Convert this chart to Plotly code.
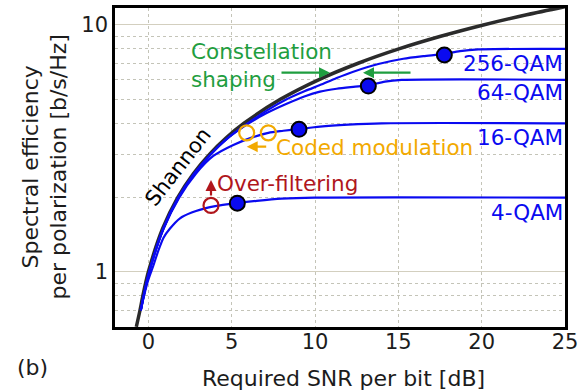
import plotly.graph_objects as go

# ---------------- data ----------------
shannon_x = [-0.72, -0.50, -0.33, 0.00, 0.86, 1.76, 2.70, 3.68, 4.69, 5.74, 7.92, 10.21, 12.59, 15.03, 17.54, 20.10, 22.70, 25.33]
shannon_y = [0.60, 0.70, 0.80, 1.00, 1.50, 2.00, 2.50, 3.00, 3.50, 4.00, 5.00, 6.00, 7.00, 8.00, 9.00, 10.0, 11.0, 12.0]

qam4_x = [-0.45, -0.28, 0.00, 0.30, 0.60, 0.92, 1.30, 1.90, 2.60, 3.40, 4.30, 5.30, 6.50, 8.00, 10.0, 25.0]
qam4_y = [0.70, 0.79, 0.93, 1.06, 1.22, 1.38, 1.50, 1.65, 1.74, 1.81, 1.86, 1.90, 1.94, 1.98, 2.00, 2.00]

qam16_x = [-0.45, -0.28, 0.05, 0.92, 1.85, 2.85, 3.90, 5.10, 6.20, 7.20, 8.10, 9.00, 10.3, 12.0, 14.0, 25.0]
qam16_y = [0.70, 0.80, 1.00, 1.50, 2.00, 2.50, 2.95, 3.27, 3.50, 3.66, 3.73, 3.79, 3.88, 3.95, 4.00, 4.00]

qam64_x = [-0.45, -0.28, 0.05, 0.90, 1.80, 2.75, 3.75, 4.80, 5.90, 7.10, 8.30, 9.40, 10.3, 11.3, 12.3, 13.2, 14.2, 15.2, 25.0]
qam64_y = [0.70, 0.80, 1.00, 1.50, 2.00, 2.50, 3.00, 3.50, 3.95, 4.40, 4.80, 5.15, 5.37, 5.52, 5.62, 5.70, 5.90, 5.99, 6.00]

qam256_x = [-0.45, -0.28, 0.05, 0.90, 1.80, 2.75, 3.75, 4.80, 5.90, 7.10, 8.30, 9.40, 10.3, 11.3, 12.3, 13.8, 15.3, 16.5, 17.7, 18.7, 19.8, 25.0]
qam256_y = [0.70, 0.80, 1.00, 1.50, 2.00, 2.50, 3.00, 3.50, 3.97, 4.50, 5.00, 5.40, 5.71, 6.10, 6.47, 6.95, 7.30, 7.48, 7.63, 7.84, 7.96, 8.00]

uncoded_x = [5.34, 9.04, 13.2, 17.76]
uncoded_y = [1.90, 3.78, 5.66, 7.56]

coded_x = [5.90, 7.20]
coded_y = [3.66, 3.66]

overfilt_x = [3.76]
overfilt_y = [1.86]

qam_names = ["4-QAM", "16-QAM", "64-QAM", "256-QAM"]
x_ticks = [0, 5, 10, 15, 20, 25]
y_ticks = [1, 10]

BLUE = "#0a0af0"
GREEN = "#1f9e3f"
ORANGE = "#f2a900"
RED = "#b0161c"
TXT = "#1c1c1c"
FONT = "DejaVu Sans"

fig = go.Figure()
fig.add_trace(go.Scatter(x=shannon_x, y=shannon_y, mode="lines",
                         line=dict(color="#2b2b2b", width=3.5, shape="spline", smoothing=0.8),
                         showlegend=False, hoverinfo="skip"))
for xs, ys in [(qam4_x, qam4_y), (qam16_x, qam16_y), (qam64_x, qam64_y), (qam256_x, qam256_y)]:
    fig.add_trace(go.Scatter(x=xs, y=ys, mode="lines",
                             line=dict(color=BLUE, width=2.2, shape="spline", smoothing=0.8),
                             showlegend=False, hoverinfo="skip"))

fig.add_trace(go.Scatter(x=coded_x, y=coded_y, mode="markers",
                         marker=dict(symbol="circle-open", size=15, color=ORANGE, line=dict(width=2.2, color=ORANGE)),
                         showlegend=False))
fig.add_trace(go.Scatter(x=overfilt_x, y=overfilt_y, mode="markers",
                         marker=dict(symbol="circle-open", size=15, color=RED, line=dict(width=2.2, color=RED)),
                         showlegend=False))
fig.add_trace(go.Scatter(x=uncoded_x, y=uncoded_y, mode="markers",
                         marker=dict(symbol="circle", size=15, color=BLUE, line=dict(width=2, color="black")),
                         showlegend=False))

W, H = 578, 390
L, R, T, B = 115, 13, 8, 63
PW, PH = W - L - R, H - T - B


def px(x):
    return (x - L) / PW


def py(y):
    return (H - B - y) / PH


ann = []
# curve labels
label_y = {"256-QAM": 63, "64-QAM": 93, "16-QAM": 137, "4-QAM": 212}
for name in qam_names:
    ann.append(dict(text=name, xref="paper", yref="paper", x=px(565), y=py(label_y[name]),
                    xanchor="right", yanchor="middle", showarrow=False,
                    font=dict(family=FONT, size=21.5, color=BLUE)))
ann.append(dict(text="Constellation<br>shaping", xref="paper", yref="paper", x=px(189), y=py(66),
                xanchor="left", yanchor="middle", align="left", showarrow=False,
                font=dict(family=FONT, size=21.5, color=GREEN)))
ann.append(dict(text="Coded modulation", xref="paper", yref="paper", x=px(274), y=py(147),
                xanchor="left", yanchor="middle", showarrow=False,
                font=dict(family=FONT, size=21.5, color=ORANGE)))
ann.append(dict(text="Over-filtering", xref="paper", yref="paper", x=px(215), y=py(183),
                xanchor="left", yanchor="middle", showarrow=False,
                font=dict(family=FONT, size=21.5, color=RED)))
ann.append(dict(text="Shannon", xref="paper", yref="paper", x=px(178), y=py(167),
                xanchor="center", yanchor="middle", textangle=-52, showarrow=False,
                font=dict(family=FONT, size=21, color="black")))
# arrows
for hx, hy, ax, ay, col in [(330, 72.7, -50, 0, GREEN), (363, 72.7, 49, 0, GREEN),
                            (246.7, 146.7, 21, 0, ORANGE), (211, 180, 0, 17, RED)]:
    ann.append(dict(text="", xref="paper", yref="paper", x=px(hx), y=py(hy), ax=ax, ay=ay,
                    showarrow=True, arrowhead=2, arrowsize=1, arrowwidth=2.2, arrowcolor=col,
                    standoff=0, startstandoff=0))
# axis titles and panel label
ann.append(dict(text="Spectral efficiency<br>per polarization [b/s/Hz]", xref="paper", yref="paper",
                x=px(44), y=0.5, xanchor="center", yanchor="middle", textangle=-90, showarrow=False,
                font=dict(family=FONT, size=22, color=TXT)))
ann.append(dict(text="Required SNR per bit [dB]", xref="paper", yref="paper",
                x=px(343), y=py(378), xanchor="center", yanchor="middle", showarrow=False,
                font=dict(family=FONT, size=22, color=TXT)))
ann.append(dict(text="(b)", xref="paper", yref="paper", x=px(15), y=py(367),
                xanchor="left", yanchor="middle", showarrow=False,
                font=dict(family=FONT, size=22, color=TXT)))

fig.update_layout(
    width=W, height=H, margin=dict(l=L, r=R, t=T, b=B, autoexpand=False),
    paper_bgcolor="white", plot_bgcolor="white",
    font=dict(family=FONT, size=21, color=TXT),
    annotations=ann, showlegend=False,
    xaxis=dict(range=[-2, 25], tickvals=x_ticks, ticks="", ticklen=0, showline=True, mirror=True,
               linecolor="black", linewidth=2.5, showgrid=True, gridcolor="#c4c4b8",
               gridwidth=1, griddash="dot", zeroline=False, automargin=False,
               ticklabeloverflow="allow", ticklabelstandoff=-6,
               tickfont=dict(family=FONT, size=21, color=TXT)),
    yaxis=dict(type="log", range=[-0.2227, 1.0688], tickvals=y_ticks, ticktext=["1", "10"],
               ticks="", ticklen=0, showline=True, mirror=True, linecolor="black", linewidth=2.5,
               showgrid=True, gridcolor="#d3cfbf", gridwidth=1.3, zeroline=False, automargin=False,
               ticklabeloverflow="allow",
               minor=dict(dtick="D1", showgrid=True, gridcolor="#c4c4b8", griddash="dot", gridwidth=1, ticks=""),
               tickfont=dict(family=FONT, size=21, color=TXT)),
)

fig.write_html("out.html")
